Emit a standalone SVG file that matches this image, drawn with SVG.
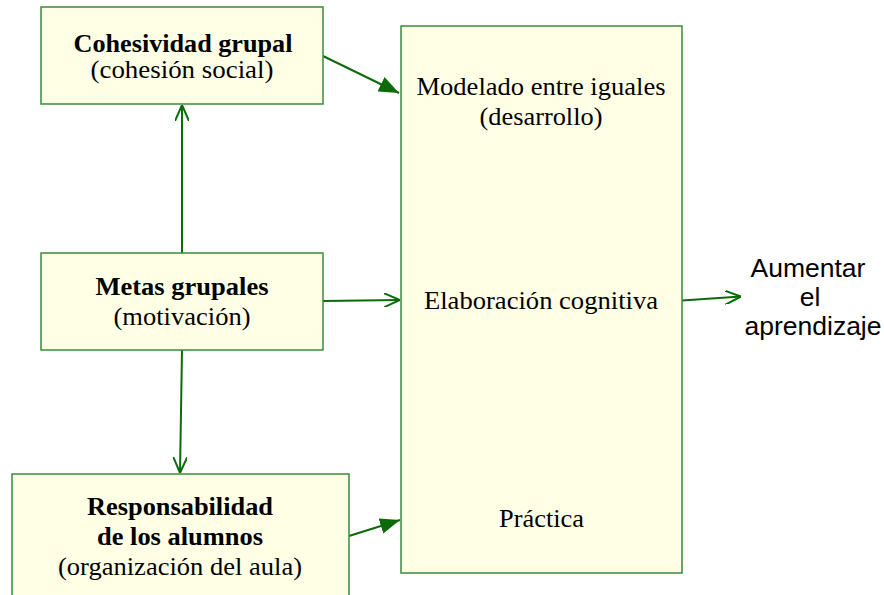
<svg xmlns="http://www.w3.org/2000/svg" width="884" height="595" viewBox="0 0 884 595">
<style>
.box{fill:#ffffe6;stroke:#3a8a3a;stroke-width:1.5}
.t{font-family:"Liberation Serif","Times New Roman",serif;font-size:25px;fill:#000;text-anchor:middle}
.b{font-weight:bold}
.s{font-family:"Liberation Sans",Arial,sans-serif;font-size:26.5px;fill:#000;text-anchor:middle}
.c{stroke:#0b6b0b;stroke-width:2;fill:none}
</style>
<defs>
<marker id="tri2" viewBox="0 0 20 16" refX="20" refY="8" markerWidth="20" markerHeight="16" markerUnits="userSpaceOnUse" orient="auto"><path d="M0,0 L20,8 L0,16 Z" fill="#0b6b0b"/></marker>
<marker id="vee" viewBox="0 0 16 14" refX="16" refY="7" markerWidth="16" markerHeight="14" markerUnits="userSpaceOnUse" orient="auto"><path d="M0,0 L16,7 L0,14" fill="none" stroke="#0b6b0b" stroke-width="2"/></marker>
</defs>
<g id="connectors">
<line class="c" x1="323" y1="56" x2="399" y2="93" marker-end="url(#tri2)"/>
<line class="c" x1="182" y1="253" x2="182" y2="105" marker-end="url(#vee)"/>
<line class="c" x1="323" y1="301" x2="400" y2="300" marker-end="url(#vee)"/>
<line class="c" x1="182" y1="350" x2="180" y2="473" marker-end="url(#vee)"/>
<line class="c" x1="349" y1="536" x2="400" y2="520" marker-end="url(#tri2)"/>
<line class="c" x1="682" y1="300.5" x2="741" y2="296.5" marker-end="url(#vee)"/>
</g>
<g id="cohesividad">
<rect class="box" x="41" y="7" width="282" height="97"/>
<text class="t b" x="183" y="52" textLength="219" lengthAdjust="spacingAndGlyphs">Cohesividad grupal</text>
<text class="t" x="182" y="78" textLength="183" lengthAdjust="spacingAndGlyphs">(cohesión social)</text>
</g>
<g id="metas">
<rect class="box" x="41" y="253" width="282" height="97"/>
<text class="t b" x="182" y="295" textLength="173" lengthAdjust="spacingAndGlyphs">Metas grupales</text>
<text class="t" x="182" y="325" textLength="137" lengthAdjust="spacingAndGlyphs">(motivación)</text>
</g>
<g id="responsabilidad">
<rect class="box" x="12" y="474" width="337" height="130"/>
<text class="t b" x="180" y="515" textLength="186" lengthAdjust="spacingAndGlyphs">Responsabilidad</text>
<text class="t b" x="180" y="545" textLength="166" lengthAdjust="spacingAndGlyphs">de los alumnos</text>
<text class="t" x="180" y="575" textLength="244" lengthAdjust="spacingAndGlyphs">(organización del aula)</text>
</g>
<g id="procesos">
<rect class="box" x="401" y="26" width="281" height="547"/>
<text class="t" x="541" y="95" textLength="249" lengthAdjust="spacingAndGlyphs">Modelado entre iguales</text>
<text class="t" x="541" y="125" textLength="123" lengthAdjust="spacingAndGlyphs">(desarrollo)</text>
<text class="t" x="541" y="309" textLength="234" lengthAdjust="spacingAndGlyphs">Elaboración cognitiva</text>
<text class="t" x="541.5" y="527" textLength="85" lengthAdjust="spacingAndGlyphs">Práctica</text>
</g>
<g id="resultado">
<text class="s" x="808" y="277">Aumentar</text>
<text class="s" x="810" y="306">el</text>
<text class="s" x="813" y="335">aprendizaje</text>
</g>
</svg>
